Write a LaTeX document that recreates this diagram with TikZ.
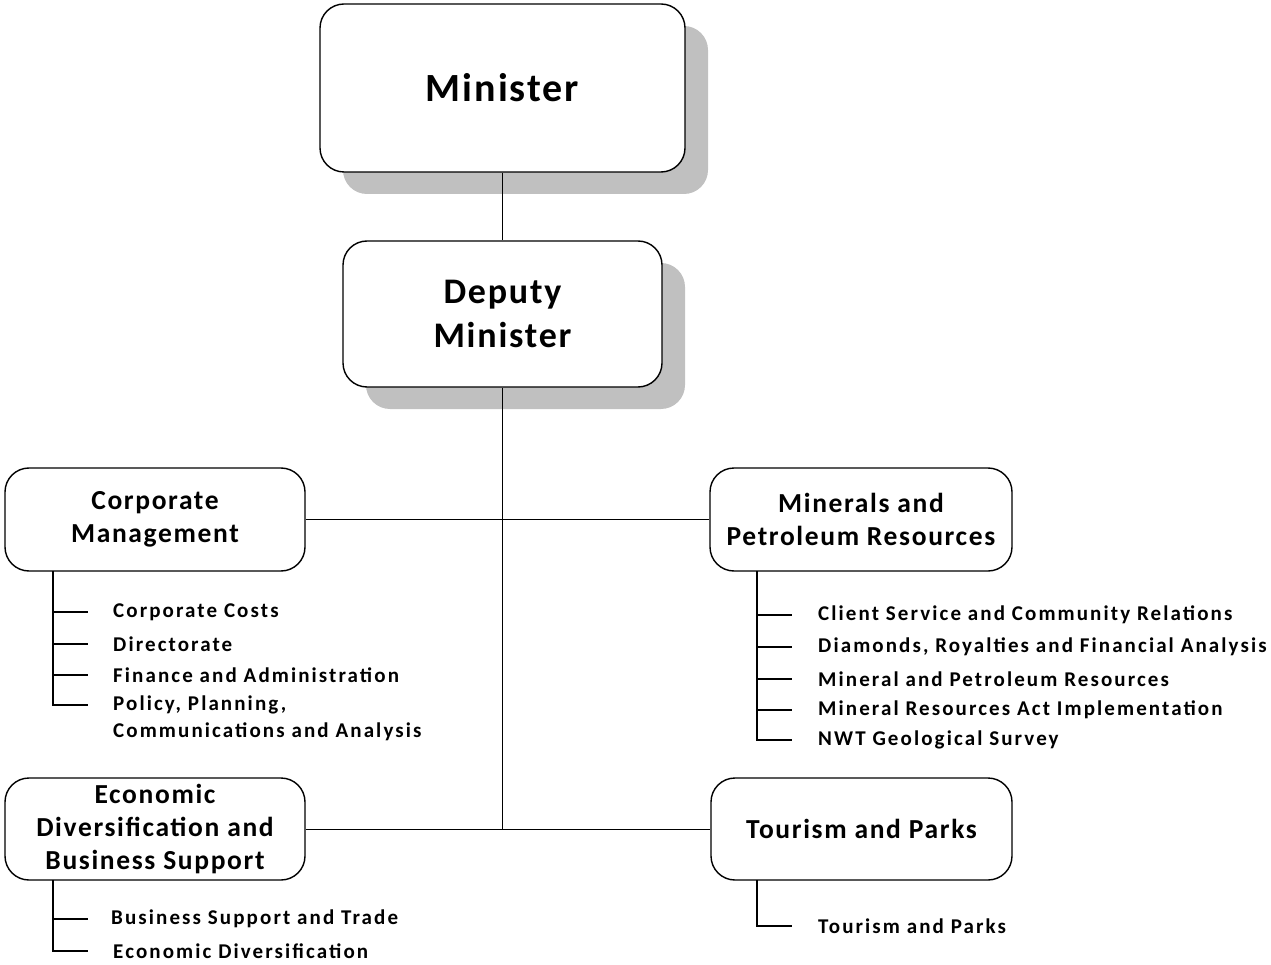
\documentclass[tikz,border=0pt]{standalone}
\usepackage{fontspec}
\setmainfont{Carlito}
\usetikzlibrary{shadows}
\definecolor{shadowgray}{RGB}{192,192,192}
\begin{document}
\begin{tikzpicture}[x=1pt,y=-1pt,
  orgbox/.style={draw, line width=1.4pt, rounded corners=24pt, fill=white, align=center, inner sep=0pt},
  shadowed/.style={drop shadow={shadow xshift=23pt, shadow yshift=-22pt, opacity=1, fill=shadowgray}},
  headfont/.style={font=\bfseries\fontsize{27.5}{33}\selectfont\addfontfeature{LetterSpace=6}},
  link/.style={line width=0.8pt},
  trunk/.style={line width=1.2pt},
  item/.style={anchor=west, inner sep=0pt, font=\bfseries\fontsize{21}{26}\selectfont\addfontfeature{LetterSpace=10}}]
\useasboundingbox (0,0) rectangle (1271,965);

% main boxes
\node[orgbox, shadowed, minimum width=365pt, minimum height=168pt,
  font=\bfseries\fontsize{40}{46}\selectfont\addfontfeature{LetterSpace=5}] (min) at (502.5,88) {Minister};
\node[orgbox, shadowed, minimum width=319pt, minimum height=146pt,
  font=\bfseries\fontsize{36}{44}\selectfont\addfontfeature{LetterSpace=5}] (dep) at (502.5,314) {Deputy\\Minister};
\node[orgbox, headfont, minimum width=300pt, minimum height=103pt] (corp) at (155,519.5) {Corporate\\Management};
\node[orgbox, headfont, minimum width=302pt, minimum height=103pt] (mpr) at (861,519.5) {Minerals and\\Petroleum Resources};
\node[orgbox, headfont, minimum width=300pt, minimum height=102pt] (econ) at (155,829) {Economic\\Diversification and\\Business Support};
\node[orgbox, headfont, minimum width=301pt, minimum height=102pt] (tour) at (861.5,829) {Tourism and Parks};

% connectors
\draw[link] (min.south) -- (dep.north);
\draw[link] (dep.south) -- (dep.south |- econ.east);
\draw[link] (corp.east) -- (mpr.west);
\draw[link] (econ.east) -- (tour.west);

% Corporate Management items
\coordinate (cmt) at (53,571);
\node[item] (c1) at (113,612) {Corporate Costs};
\node[item] (c2) at (113,644) {Directorate};
\node[item] (c3) at (113,675) {Finance and Administration};
\node[item] (c4) at (113,705) {Policy, Planning,};
\node[item] (c4b) at (113,732) {Communications and Analysis};
\draw[trunk] (cmt) |- ([xshift=-25pt]c4.west);
\foreach \n in {c1,c2,c3}{\draw[trunk] (\n.west -| cmt) -- ([xshift=-25pt]\n.west);}

% Minerals items
\coordinate (mpt) at (757,571);
\node[item] (m1) at (818,615) {Client Service and Community Relations};
\node[item] (m2) at (818,647) {Diamonds, Royalties and Financial Analysis};
\node[item] (m3) at (818,679) {Mineral and Petroleum Resources};
\node[item] (m4) at (818,710) {Mineral Resources Act Implementation};
\node[item] (m5) at (818,740) {NWT Geological Survey};
\draw[trunk] (mpt) |- ([xshift=-26pt]m5.west);
\foreach \n in {m1,m2,m3,m4}{\draw[trunk] (\n.west -| mpt) -- ([xshift=-26pt]\n.west);}

% Economic items
\coordinate (edt) at (53,880);
\node[item] (e1) at (111,919) {Business Support and Trade};
\node[item] (e2) at (113,951) {Economic Diversification};
\draw[trunk] (edt) |- ([xshift=-25pt]e2.west);
\draw[trunk] (e1.west -| edt) -- ([xshift=-23pt]e1.west);

% Tourism items
\coordinate (tpt) at (757,880);
\node[item] (t1) at (818,926) {Tourism and Parks};
\draw[trunk] (tpt) |- ([xshift=-26pt]t1.west);
\end{tikzpicture}
\end{document}
